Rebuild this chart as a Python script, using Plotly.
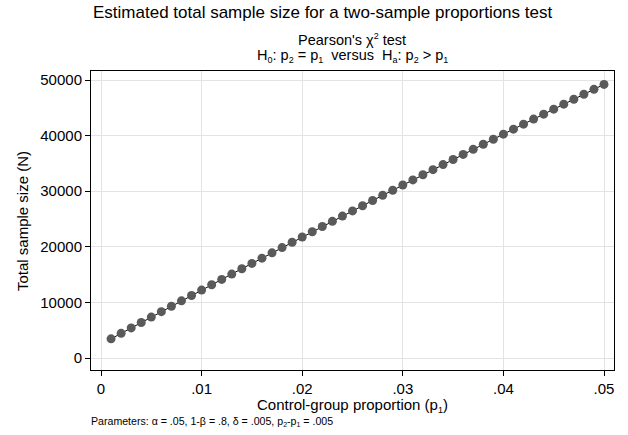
import plotly.graph_objects as go

p1 = [round(0.001 * k, 3) for k in range(1, 51)]
N = [3450, 4432, 5411, 6389, 7364, 8337, 9309, 10278, 11246, 12211,
     13175, 14136, 15096, 16054, 17009, 17963, 18915, 19864, 20812, 21758,
     22702, 23643, 24583, 25521, 26457, 27391, 28322, 29252, 30180, 31106,
     32031, 32953, 33873, 34791, 35707, 36621, 37533, 38443, 39351, 40257,
     41162, 42064, 42964, 43862, 44759, 45653, 46545, 47436, 48324, 49210]
x_ticks = [0, 0.01, 0.02, 0.03, 0.04, 0.05]
x_labels = ["0", ".01", ".02", ".03", ".04", ".05"]
y_ticks = [0, 10000, 20000, 30000, 40000, 50000]
y_labels = ["0", "10000", "20000", "30000", "40000", "50000"]

FONT = "Liberation Sans, Arial, Helvetica, sans-serif"
W, H = 628, 435
L, R, T, B = 91, 14, 71, 65
plot_h = H - T - B
plot_w = W - L - R


def py(pix):  # pixel y from top -> paper coordinate
    return (H - B - pix) / plot_h


def px(pix):
    return (pix - L) / plot_w


def sub(s, size=9):
    return f'<sub><span style="font-size:{size}px">{s}</span></sub>'


fig = go.Figure()
fig.add_trace(go.Scatter(
    x=p1, y=N, mode="lines+markers",
    line=dict(color="black", width=1),
    marker=dict(color="#5a5a5a", size=9, line=dict(width=0)),
    showlegend=False, hoverinfo="x+y"))

axis_common = dict(showgrid=True, gridcolor="#e3e3e3", gridwidth=1, zeroline=False,
                   ticks="outside", ticklen=5, tickcolor="black",
                   showline=True, linecolor="black", linewidth=1, mirror=True,
                   tickfont=dict(size=15), automargin=False)

fig.update_layout(
    width=W, height=H,
    margin=dict(l=L, r=R, t=T, b=B),
    paper_bgcolor="white", plot_bgcolor="white",
    font=dict(family=FONT, color="black", size=15),
    xaxis=dict(range=[-0.000994, 0.050994], tickvals=x_ticks, ticktext=x_labels,
               **axis_common),
    yaxis=dict(range=[-2158, 51619], tickvals=y_ticks, ticktext=y_labels,
               **axis_common),
    annotations=[
        dict(text="Estimated total sample size for a two-sample proportions test",
             xref="paper", yref="paper", x=px(322), y=py(13), yanchor="middle",
             showarrow=False, font=dict(size=17)),
        dict(text='Pearson\'s χ<sup><span style="font-size:9px">2</span></sup> test',
             xref="paper", yref="paper",
             x=px(352), y=py(39), yanchor="middle", showarrow=False, font=dict(size=14.5)),
        dict(text=f"H{sub('0')}: p{sub('2')} = p{sub('1')}  versus  H{sub('a')}: p{sub('2')} > p{sub('1')}",
             xref="paper", yref="paper", x=px(352), y=py(56), yanchor="middle",
             showarrow=False, font=dict(size=14.5)),
        dict(text=f"Control-group proportion (p{sub('1')})", xref="paper", yref="paper",
             x=px(352), y=py(405), yanchor="middle", showarrow=False, font=dict(size=15)),
        dict(text="Total sample size (N)", xref="paper", yref="paper", textangle=-90,
             x=px(22), y=py(221), xanchor="center", yanchor="middle",
             showarrow=False, font=dict(size=15)),
        dict(text=f"Parameters: α = .05, 1-β = .8, δ = .005, p{sub('2', 7)}-p{sub('1', 7)} = .005",
             xref="paper", yref="paper", x=px(89), y=py(421), xanchor="left",
             yanchor="middle", showarrow=False, font=dict(size=10.6)),
    ],
)

fig.write_html("out.html", config={"displayModeBar": False},
               post_script="document.body.style.margin='0';document.body.style.padding='0';")
